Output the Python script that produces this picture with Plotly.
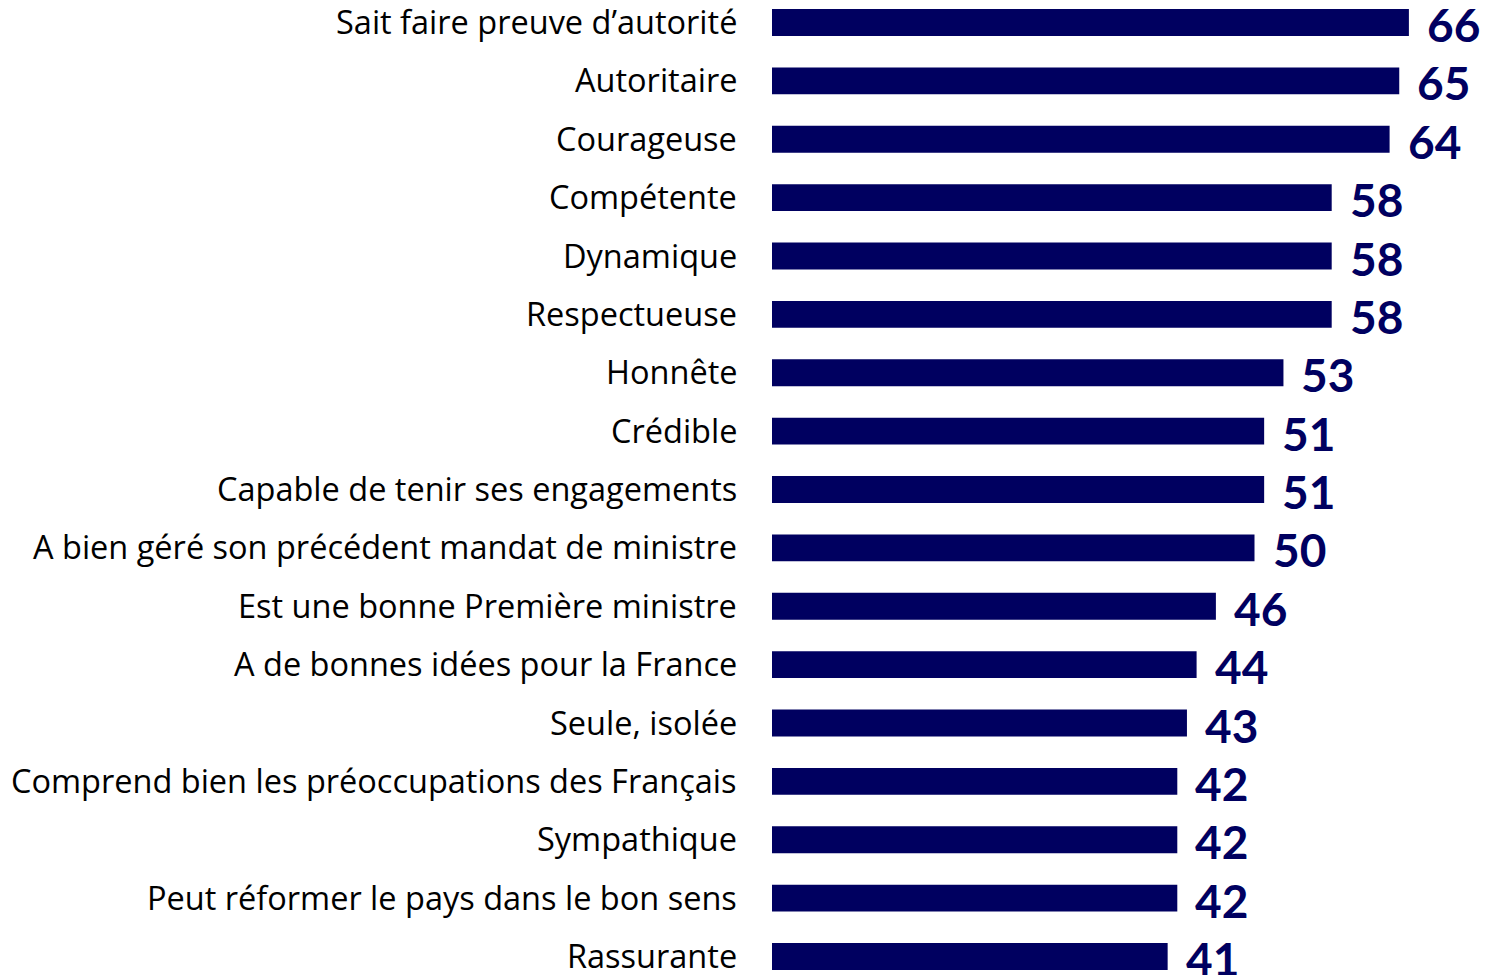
import plotly.graph_objects as go

categories = [
    "Sait faire preuve d’autorité",
    "Autoritaire",
    "Courageuse",
    "Compétente",
    "Dynamique",
    "Respectueuse",
    "Honnête",
    "Crédible",
    "Capable de tenir ses engagements",
    "A bien géré son précédent mandat de ministre",
    "Est une bonne Première ministre",
    "A de bonnes idées pour la France",
    "Seule, isolée",
    "Comprend bien les préoccupations des Français",
    "Sympathique",
    "Peut réformer le pays dans le bon sens",
    "Rassurante",
]
values = [66, 65, 64, 58, 58, 58, 53, 51, 51, 50, 46, 44, 43, 42, 42, 42, 41]

NAVY = "#000060"
idx = list(range(len(categories)))

fig = go.Figure()
fig.add_trace(go.Bar(
    x=values, y=idx, orientation="h",
    marker=dict(color=NAVY, line=dict(width=0)),
    width=0.4625, hoverinfo="skip",
))

annotations = []
for i, (c, v) in enumerate(zip(categories, values)):
    annotations.append(dict(
        x=0, xref="paper", y=i, yref="y", text=c, showarrow=False,
        xanchor="right", yanchor="middle", xshift=-33, yshift=1,
        font=dict(family="Open Sans", size=32.5, color="#000000"),
    ))
    annotations.append(dict(
        x=v, xref="x", y=i, yref="y", text=f"<b>{v}</b>", showarrow=False,
        xanchor="left", yanchor="middle", xshift=16, yshift=-2,
        font=dict(family="Lato", size=46, color=NAVY),
    ))

fig.update_layout(
    width=1486, height=975,
    margin=dict(l=772, r=0, t=0, b=0),
    paper_bgcolor="white", plot_bgcolor="white",
    showlegend=False,
    xaxis=dict(range=[0, 714 / 9.65], visible=False, fixedrange=True),
    yaxis=dict(range=[(975 - 22.5) / 58.375, -22.5 / 58.375], visible=False, fixedrange=True),
    annotations=annotations,
)

fig.write_html("out.html", config={"displayModeBar": False})
